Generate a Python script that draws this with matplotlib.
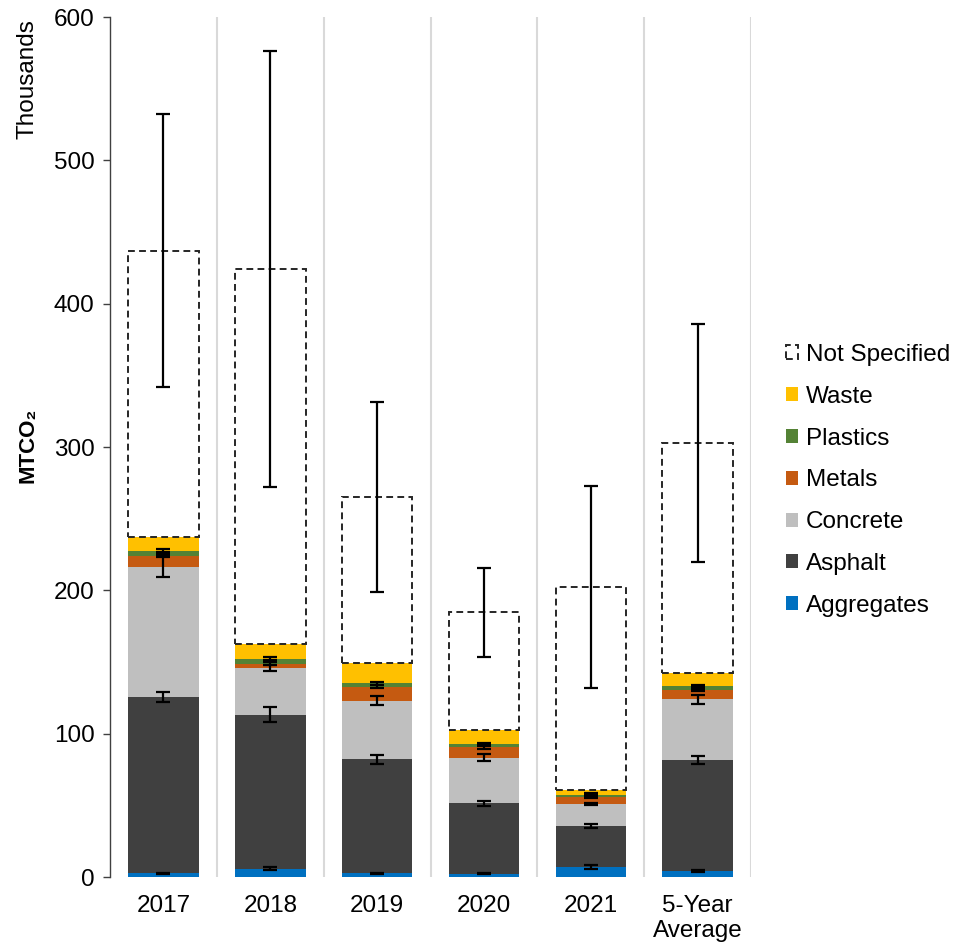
import matplotlib
matplotlib.use('Agg')
import matplotlib.pyplot as plt
import numpy as np

plt.rcParams['font.family'] = ['Liberation Sans', 'DejaVu Sans']

# datos (miles de MTCO2)
categorias = ["2017", "2018", "2019", "2020", "2021", "5-Year\nAverage"]
series = ["Aggregates", "Asphalt", "Concrete", "Metals", "Plastics", "Waste", "Not Specified"]

aggregates = [2.5, 5.8, 2.5, 2.3, 7.0, 4.2]
asphalt = [123.0, 107.5, 79.6, 49.1, 28.6, 77.4]
concrete = [91.0, 32.4, 40.9, 31.8, 15.1, 42.4]
metals = [7.7, 3.0, 9.8, 7.3, 5.3, 6.5]
plastics = [3.5, 3.5, 2.3, 2.3, 1.4, 2.8]
waste = [9.7, 10.5, 14.0, 9.8, 3.3, 9.2]
not_specified = [199.6, 261.5, 116.0, 82.1, 141.8, 160.3]

# barras de error
err_aggregates = [0.5, 1.0, 0.5, 0.5, 1.5, 0.8]
err_asphalt = [3.5, 5.0, 3.1, 1.7, 1.6, 2.8]
err_concrete = [7.5, 2.0, 3.0, 2.6, 0.8, 3.1]
err_metals = [1.0, 1.0, 1.0, 1.0, 1.0, 1.0]
err_plastics = [1.0, 1.0, 1.0, 1.0, 1.0, 1.0]
err_not_specified = [95, 152, 66, 31, 70.5, 83]

colores = ["#0070C0", "#404040", "#BFBFBF", "#C55A11", "#548235", "#FFC000"]

valores = [aggregates, asphalt, concrete, metals, plastics, waste, not_specified]
errores = [err_aggregates, err_asphalt, err_concrete, err_metals, err_plastics, None, err_not_specified]

FS = 17.5

fig = plt.figure(figsize=(9.58, 9.51), dpi=100)
ax = fig.add_axes([0.1148, 0.0778, 0.784 - 0.1148, 0.9821 - 0.0778])

x = np.arange(len(categorias))
ancho = 0.66
base = np.zeros(len(categorias))
handles = []
for i, nombre in enumerate(series):
    vals = np.array(valores[i])
    if nombre == "Not Specified":
        b = ax.bar(x, vals, ancho, bottom=base, facecolor='none', edgecolor='#262626',
                   linewidth=1.4, linestyle=(0, (3.5, 2.2)), label=nombre, zorder=2)
    else:
        b = ax.bar(x, vals, ancho, bottom=base, color=colores[i], label=nombre,
                   edgecolor='none', zorder=2)
    handles.append(b)
    base = base + vals
    if errores[i] is not None:
        ax.errorbar(x, base, yerr=errores[i], fmt='none', ecolor='black',
                    elinewidth=1.6, capsize=5, capthick=1.6, zorder=4)

ax.set_xlim(-0.5, len(categorias) - 0.5)
ax.set_ylim(0, 600)
ax.set_yticks(np.arange(0, 601, 100))
ax.set_xticks(x)
ax.set_xticklabels(categorias, fontsize=FS, linespacing=1.2)
ax.tick_params(axis='x', length=0, pad=13)
ax.tick_params(axis='y', labelsize=FS, length=5, width=1, direction='out', color='#404040', pad=6)

# lineas verticales entre categorias
ax.set_xticks(np.arange(0.5, len(categorias), 1), minor=True)
ax.tick_params(axis='x', which='minor', length=0)
ax.grid(axis='x', which='minor', color='#D9D9D9', linewidth=1.5, zorder=0)
ax.set_axisbelow(True)

for s in ['top', 'right', 'bottom']:
    ax.spines[s].set_visible(False)
ax.spines['left'].set_color('#404040')
ax.spines['left'].set_linewidth(1.0)

fig.text(0.029, 0.532, 'MTCO₂', rotation=90, va='center', ha='center', fontsize=16, fontweight='bold')
fig.text(0.029, 0.980, 'Thousands', rotation=90, va='top', ha='center', fontsize=FS)

leg = ax.legend(handles[::-1], series[::-1], loc='upper left',
                bbox_to_anchor=(0.8105, 0.6485), bbox_transform=fig.transFigure,
                frameon=False, fontsize=FS, handlelength=0.5, handleheight=0.5,
                handletextpad=0.3, labelspacing=0.815, borderaxespad=0)

plt.savefig('out.png', dpi=100, facecolor='white')
plt.close()
